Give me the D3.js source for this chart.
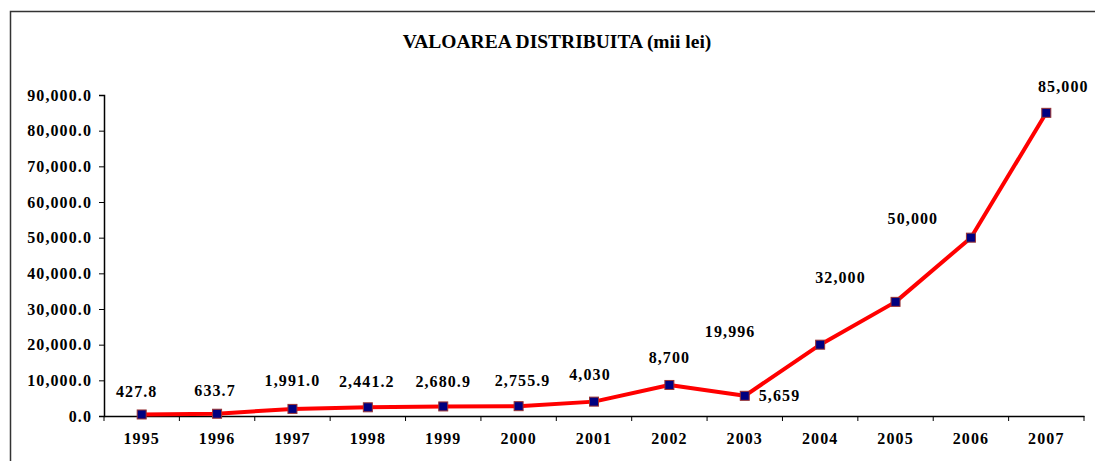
<!DOCTYPE html>
<html>
<head>
<meta charset="utf-8">
<script src="https://cdn.jsdelivr.net/npm/d3@7"></script>
<style>
  body { margin: 0; background: #fff; }
  text { font-family: "Liberation Serif", "Times New Roman", serif; font-weight: bold; fill: #000; }
</style>
</head>
<body>
<div id="container"></div>
<script>
// data
const years = ["1995", "1996", "1997", "1998", "1999", "2000", "2001", "2002", "2003", "2004", "2005", "2006", "2007"];
const values = [427.8, 633.7, 1991.0, 2441.2, 2680.9, 2755.9, 4030, 8700, 5659, 19996, 32000, 50000, 85000];
const valueLabels = ["427.8", "633.7", "1,991.0", "2,441.2", "2,680.9", "2,755.9", "4,030", "8,700", "5,659", "19,996", "32,000", "50,000", "85,000"];
const yTicks = [0, 10000, 20000, 30000, 40000, 50000, 60000, 70000, 80000, 90000];

// where each data label sits relative to its point (dx, dy)
const labelOffsets = [[-5, -23], [-2, -23], [0, -28], [-1, -26], [0, -25], [4, -26], [-4, -27], [0, -28], [14, 0], [-90, -13], [-55, -24], [-58, -19], [17, -26]];

const width = 1095, height = 461;
const margin = { top: 95, right: 11, bottom: 45, left: 104 };
const fontSize = "16px";
const spacing = "1.1px";

const svg = d3.select("#container")
  .append("svg")
  .attr("width", width)
  .attr("height", height);

// frame (only left and top show in the picture)
svg.append("path")
  .attr("d", `M10.5,${height} L10.5,11.5 L${width},11.5`)
  .attr("fill", "none")
  .attr("stroke", "#333")
  .attr("stroke-width", 1.5);

svg.append("text")
  .attr("x", 557)
  .attr("y", 48)
  .attr("text-anchor", "middle")
  .style("font-size", "19.5px")
  .text("VALOAREA DISTRIBUITA (mii lei)");

const xScale = d3.scaleBand()
  .domain(years)
  .range([margin.left, width - margin.right]);

const yScale = d3.scaleLinear()
  .domain([0, 90000])
  .range([height - margin.bottom, margin.top]);

// y axis
const yAxis = svg.append("g")
  .attr("transform", `translate(${margin.left},0)`)
  .call(d3.axisLeft(yScale).tickValues(yTicks).tickFormat(d3.format(",.1f")).tickSize(5).tickPadding(7));
yAxis.select(".domain").attr("stroke", "#000").attr("stroke-width", 1.5);
yAxis.selectAll("text")
  .style("font-size", fontSize)
  .style("letter-spacing", spacing)
  .style("font-family", "Liberation Serif");

// x axis: labels at band centres, ticks on band boundaries
const xAxis = svg.append("g")
  .attr("transform", `translate(0,${height - margin.bottom})`)
  .call(d3.axisBottom(xScale).tickSize(0).tickPadding(17));
xAxis.select(".domain").attr("stroke", "#000").attr("stroke-width", 1.5);
xAxis.selectAll("text")
  .style("font-size", fontSize)
  .style("letter-spacing", spacing)
  .style("font-family", "Liberation Serif");

xAxis.selectAll(".boundary")
  .data(years.concat(["end"]))
  .enter()
  .append("line")
  .attr("class", "boundary")
  .attr("x1", (d) => d === "end" ? xScale.range()[1] : xScale(d))
  .attr("x2", (d) => d === "end" ? xScale.range()[1] : xScale(d))
  .attr("y1", 0)
  .attr("y2", 5)
  .attr("stroke", "#000")
  .attr("stroke-width", 1);

const points = years.map((y, i) => ({ year: y, value: values[i], label: valueLabels[i], off: labelOffsets[i] }));
const cx = (d) => xScale(d.year) + xScale.bandwidth() / 2;

const line = d3.line()
  .x(cx)
  .y((d) => yScale(d.value));

svg.append("path")
  .datum(points)
  .attr("fill", "none")
  .attr("stroke", "#ff0000")
  .attr("stroke-width", 4)
  .attr("stroke-linejoin", "round")
  .attr("d", line);

svg.selectAll(".marker")
  .data(points)
  .enter()
  .append("rect")
  .attr("class", "marker")
  .attr("x", (d) => cx(d) - 4.5)
  .attr("y", (d) => yScale(d.value) - 4.5)
  .attr("width", 9)
  .attr("height", 9)
  .attr("fill", "#000080")
  .attr("stroke", "#993333")
  .attr("stroke-width", 1);

svg.selectAll(".value-label")
  .data(points)
  .enter()
  .append("text")
  .attr("class", "value-label")
  .attr("x", (d) => cx(d) + d.off[0])
  .attr("y", (d) => yScale(d.value) + d.off[1])
  .attr("dy", "0.35em")
  .attr("text-anchor", (d) => d.year === "2003" ? "start" : "middle")
  .style("font-size", fontSize)
  .style("letter-spacing", spacing)
  .text((d) => d.label);
</script>
</body>
</html>
